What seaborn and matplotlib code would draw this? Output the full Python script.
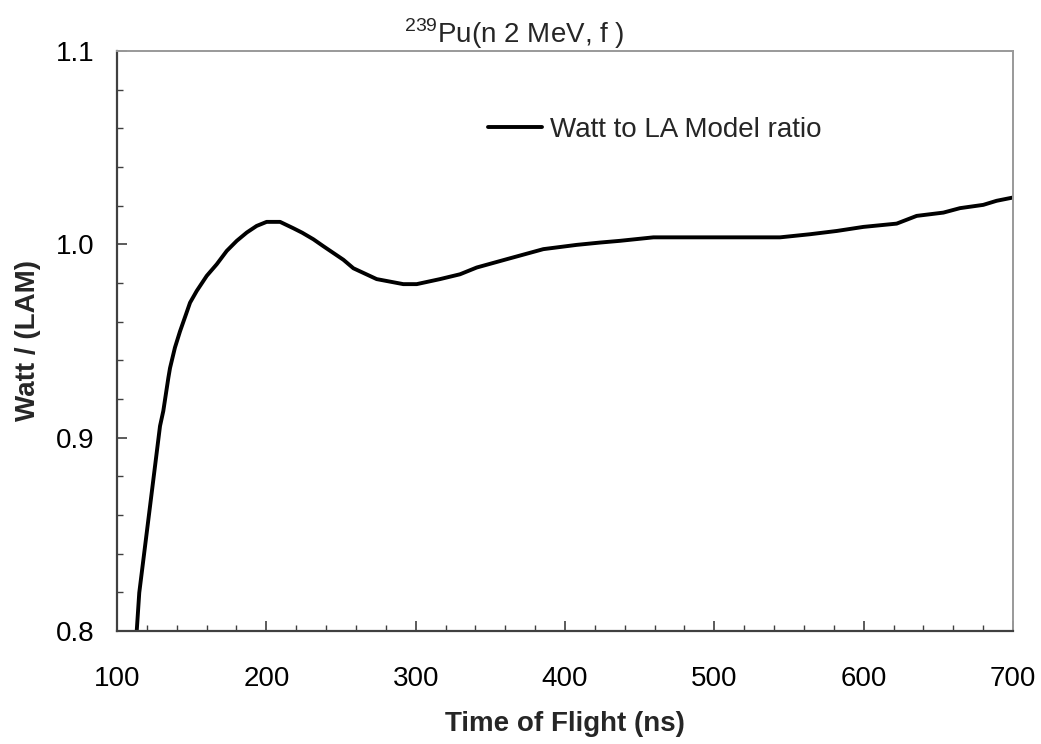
#!/usr/bin/env python3

import pandas as pd
import seaborn as sns
import matplotlib.pyplot as plt
from matplotlib.ticker import MultipleLocator

# Watt / LAM ratio
tof_ns = [
    113.2, 114.9, 128.8, 131.0, 134.4, 135.5, 138.8, 142.2, 146.2, 148.9,
    153.4, 160.1, 166.8, 173.5, 180.2, 186.9, 193.5, 200.2, 209.2, 218.1,
    224.0, 231.5, 238.2, 251.6, 258.3, 273.9, 291.7, 300.7, 316.3, 329.7,
    340.9, 361.0, 385.5, 407.8, 423.4, 436.8, 459.2, 490.4, 544.0, 564.0,
    582.0, 599.8, 622.1, 635.5, 653.4, 664.5, 680.1, 689.0, 700.0,
]
ratio = [
    0.8000, 0.8198, 0.9060, 0.9138, 0.9310, 0.9360, 0.9466, 0.9550, 0.9638, 0.9698,
    0.9759, 0.9837, 0.9897, 0.9966, 1.0018, 1.0061, 1.0095, 1.0116, 1.0116, 1.0083,
    1.0060, 1.0026, 0.9990, 0.9920, 0.9876, 0.9820, 0.9794, 0.9794, 0.9820, 0.9845,
    0.9880, 0.9923, 0.9975, 0.9997, 1.0009, 1.0018, 1.0036, 1.0036, 1.0036, 1.0052,
    1.0069, 1.0090, 1.0107, 1.0147, 1.0164, 1.0187, 1.0204, 1.0225, 1.0242,
]
series_name = "Watt to LA Model ratio"

df = pd.DataFrame({"tof": tof_ns, "ratio": ratio, "series": series_name})

sns.set_style("ticks")
plt.rcParams["font.family"] = ["Liberation Sans", "DejaVu Sans"]
plt.rcParams["mathtext.fontset"] = "custom"
plt.rcParams["mathtext.rm"] = "Liberation Sans"

fig = plt.figure(figsize=(10.41, 7.44), dpi=100)
ax = fig.add_axes([0.1124, 0.1519, 0.8607, 0.7796])

sns.lineplot(
    data=df, x="tof", y="ratio", hue="series",
    palette=["black"], estimator=None, sort=False,
    linewidth=2.8, ax=ax
)

ax.set_xlim(100, 700)
ax.set_ylim(0.8, 1.1)
ax.xaxis.set_major_locator(MultipleLocator(100))
ax.xaxis.set_minor_locator(MultipleLocator(20))
ax.yaxis.set_major_locator(MultipleLocator(0.1))
ax.yaxis.set_minor_locator(MultipleLocator(0.02))
ax.yaxis.set_major_formatter(plt.FormatStrFormatter("%.1f"))

ax.tick_params(which="both", direction="in", colors="#404040", labelcolor="black")
ax.tick_params(axis="x", which="major", length=7, width=1.2, labelsize=20, pad=25)
ax.tick_params(axis="x", which="minor", length=4, width=1.0)
ax.tick_params(axis="y", which="major", length=7, width=1.2, labelsize=20, pad=16)
ax.tick_params(axis="y", which="minor", length=4, width=1.0)

for side in ["left", "bottom"]:
    ax.spines[side].set_color("#404040")
    ax.spines[side].set_linewidth(1.6)
for side in ["top", "right"]:
    ax.spines[side].set_color("#999999")
    ax.spines[side].set_linewidth(1.4)

ax.set_xlabel("Time of Flight (ns)", fontsize=20, fontweight="bold", labelpad=14)
ax.set_ylabel("Watt / (LAM)", fontsize=20, fontweight="bold", labelpad=11)
ax.set_title(r"$^{239}$Pu(n 2 MeV, f )", fontsize=20, x=0.443, pad=4)

ax.legend(
    loc="center left", bbox_to_anchor=(0.386, 0.864), frameon=False,
    fontsize=20, handlelength=1.95, handletextpad=0.3
)

fig.savefig("out.png", dpi=100)
